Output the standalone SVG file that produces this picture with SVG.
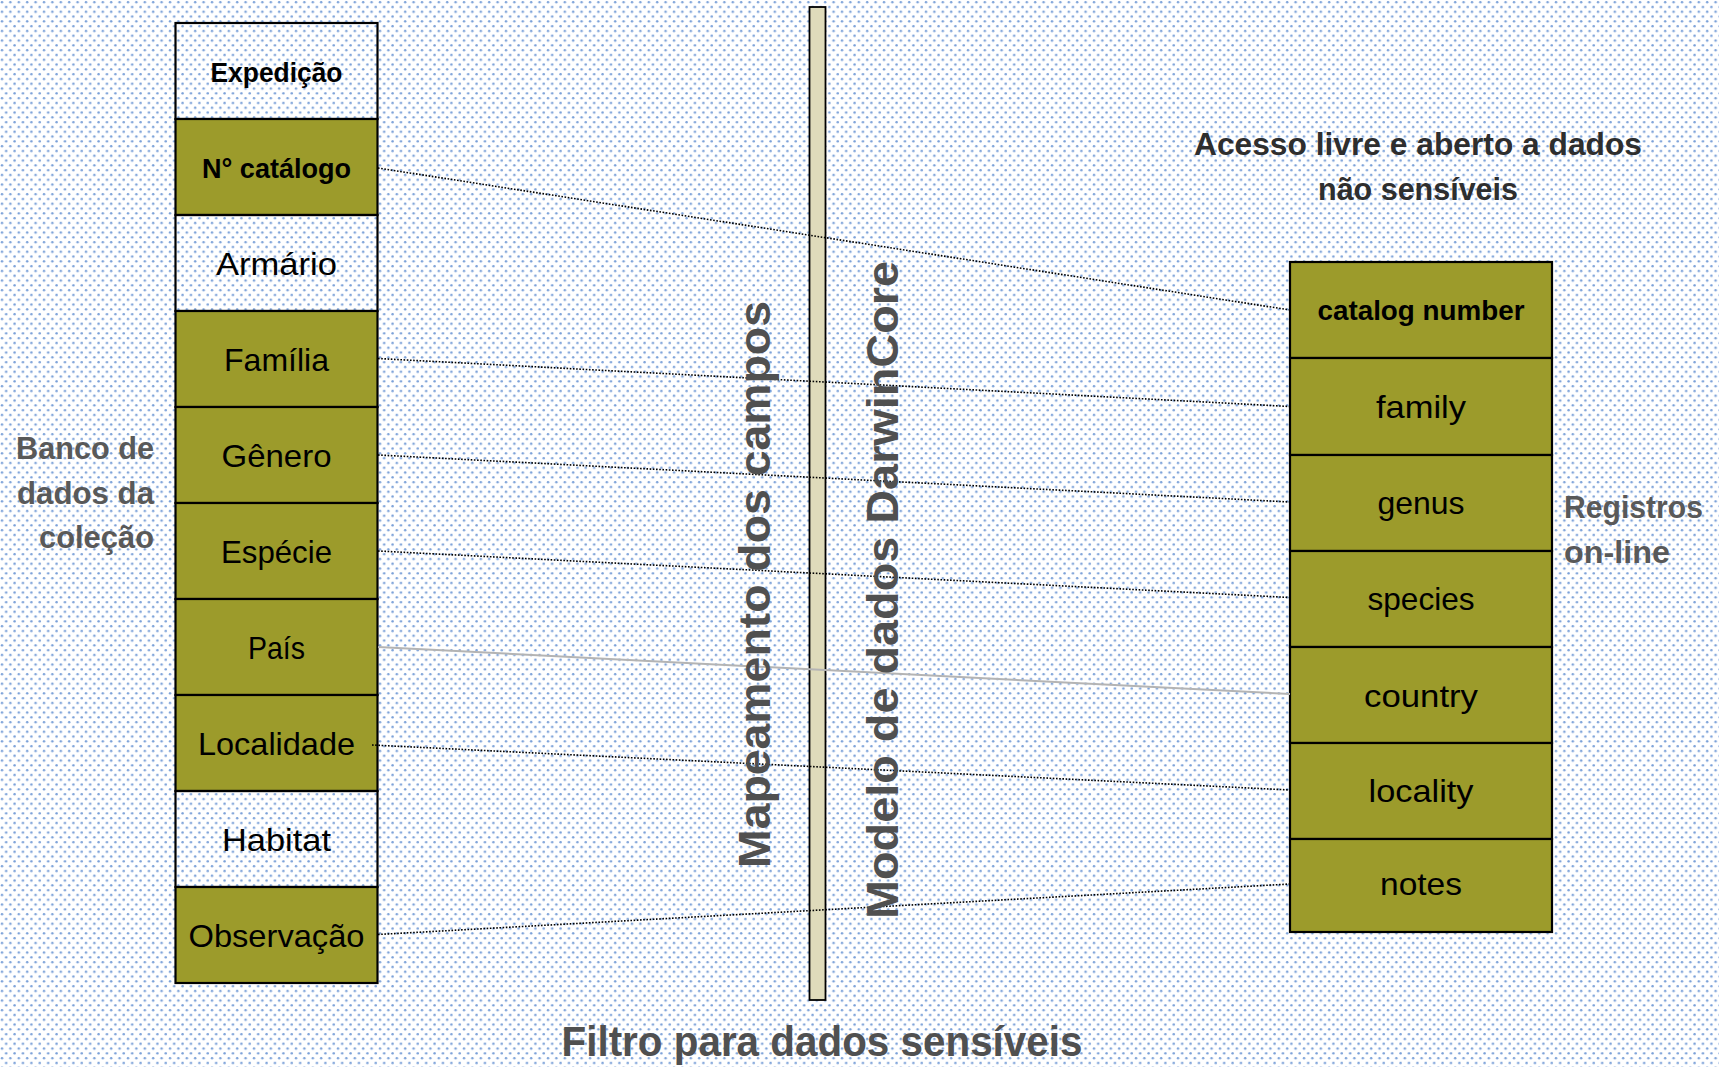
<svg xmlns="http://www.w3.org/2000/svg" width="1719" height="1067" viewBox="0 0 1719 1067">
<defs>
<pattern id="bg" width="8.4" height="9.6" patternUnits="userSpaceOnUse">
<rect width="8.4" height="9.6" fill="#ffffff"/>
<circle cx="2" cy="2.2" r="1.25" fill="#7aa0d8"/>
<circle cx="6.2" cy="7" r="1.25" fill="#7aa0d8"/>
</pattern>
<style>
.cell{stroke:#000;stroke-width:2.2}
.olive{fill:#9c9b2b}
.blank{fill:none}
.t{font-family:"Liberation Sans",Arial,sans-serif;font-size:32px;fill:#000;text-anchor:middle}
.tb{font-family:"Liberation Sans",Arial,sans-serif;font-size:28px;font-weight:bold;fill:#000;text-anchor:middle}
.lab{font-family:"Liberation Sans",Arial,sans-serif;font-size:32px;font-weight:bold;fill:#595959}
.head{font-family:"Liberation Sans",Arial,sans-serif;font-size:32px;font-weight:bold;fill:#2e2e2e;text-anchor:middle}
.big{font-family:"Liberation Sans",Arial,sans-serif;font-size:45px;font-weight:bold;fill:#505050}
.dot{stroke:#000;stroke-width:1.6;stroke-dasharray:1.6 1.6;fill:none}
.solid{stroke:#b4b4b4;stroke-width:2;fill:none}
</style>
</defs>
<rect x="0" y="0" width="1719" height="1067" fill="url(#bg)"/>

<g id="filter-bar">
<rect x="809.5" y="7" width="16" height="993" fill="#dfdbbb" stroke="#000" stroke-width="1.8"/>
</g>

<g id="left-table">
<g id="n-expedicao"><rect class="cell blank" x="175.5" y="23" width="202" height="96"/><text class="tb" x="276.5" y="81.5" textLength="132" lengthAdjust="spacingAndGlyphs">Expedição</text></g>
<g id="n-catalogo"><rect class="cell olive" x="175.5" y="119" width="202" height="96"/><text class="tb" x="276.5" y="177.5" textLength="149" lengthAdjust="spacingAndGlyphs">N° catálogo</text></g>
<g id="n-armario"><rect class="cell blank" x="175.5" y="215" width="202" height="96"/><text class="t" x="276.5" y="275" textLength="121" lengthAdjust="spacingAndGlyphs">Armário</text></g>
<g id="n-familia"><rect class="cell olive" x="175.5" y="311" width="202" height="96"/><text class="t" x="276.5" y="371" textLength="105" lengthAdjust="spacingAndGlyphs">Família</text></g>
<g id="n-genero"><rect class="cell olive" x="175.5" y="407" width="202" height="96"/><text class="t" x="276.5" y="467" textLength="110" lengthAdjust="spacingAndGlyphs">Gênero</text></g>
<g id="n-especie"><rect class="cell olive" x="175.5" y="503" width="202" height="96"/><text class="t" x="276.5" y="563" textLength="111" lengthAdjust="spacingAndGlyphs">Espécie</text></g>
<g id="n-pais"><rect class="cell olive" x="175.5" y="599" width="202" height="96"/><text class="t" x="276.5" y="659" textLength="57" lengthAdjust="spacingAndGlyphs">País</text></g>
<g id="n-localidade"><rect class="cell olive" x="175.5" y="695" width="202" height="96"/><text class="t" x="276.5" y="755" textLength="157" lengthAdjust="spacingAndGlyphs">Localidade</text></g>
<g id="n-habitat"><rect class="cell blank" x="175.5" y="791" width="202" height="96"/><text class="t" x="276.5" y="851" textLength="109" lengthAdjust="spacingAndGlyphs">Habitat</text></g>
<g id="n-observacao"><rect class="cell olive" x="175.5" y="887" width="202" height="96"/><text class="t" x="276.5" y="947" textLength="176" lengthAdjust="spacingAndGlyphs">Observação</text></g>
</g>

<g id="right-table">
<g id="n-catalognumber"><rect class="cell olive" x="1290" y="262" width="262" height="96"/><text class="tb" x="1421" y="320" textLength="207" lengthAdjust="spacingAndGlyphs">catalog number</text></g>
<g id="n-family"><rect class="cell olive" x="1290" y="358" width="262" height="97"/><text class="t" x="1421" y="418" textLength="90" lengthAdjust="spacingAndGlyphs">family</text></g>
<g id="n-genus"><rect class="cell olive" x="1290" y="455" width="262" height="96"/><text class="t" x="1421" y="514" textLength="87" lengthAdjust="spacingAndGlyphs">genus</text></g>
<g id="n-species"><rect class="cell olive" x="1290" y="551" width="262" height="96"/><text class="t" x="1421" y="610" textLength="107" lengthAdjust="spacingAndGlyphs">species</text></g>
<g id="n-country"><rect class="cell olive" x="1290" y="647" width="262" height="96"/><text class="t" x="1421" y="707" textLength="114" lengthAdjust="spacingAndGlyphs">country</text></g>
<g id="n-locality"><rect class="cell olive" x="1290" y="743" width="262" height="96"/><text class="t" x="1421" y="802" textLength="105" lengthAdjust="spacingAndGlyphs">locality</text></g>
<g id="n-notes"><rect class="cell olive" x="1290" y="839" width="262" height="93"/><text class="t" x="1421" y="895" textLength="82" lengthAdjust="spacingAndGlyphs">notes</text></g>
</g>

<g id="connectors">
<line class="dot" x1="378" y1="168" x2="1290" y2="310"/>
<line class="dot" x1="378" y1="358.5" x2="1290" y2="406.5"/>
<line class="dot" x1="378" y1="455" x2="1290" y2="502"/>
<line class="dot" x1="378" y1="551" x2="1290" y2="597.5"/>
<line class="solid" x1="378" y1="647" x2="1290" y2="694"/>
<line class="dot" x1="372" y1="745" x2="1290" y2="790"/>
<line class="dot" x1="378" y1="934.5" x2="1290" y2="884"/>
</g>

<g id="labels">
<text class="lab" x="154" y="459" text-anchor="end" textLength="138" lengthAdjust="spacingAndGlyphs">Banco de</text>
<text class="lab" x="154" y="504" text-anchor="end" textLength="137" lengthAdjust="spacingAndGlyphs">dados da</text>
<text class="lab" x="154" y="548" text-anchor="end" textLength="115" lengthAdjust="spacingAndGlyphs">coleção</text>
<text class="lab" x="1564" y="518" textLength="139" lengthAdjust="spacingAndGlyphs">Registros</text>
<text class="lab" x="1564" y="563" textLength="106" lengthAdjust="spacingAndGlyphs">on-line</text>
<text class="head" x="1418" y="155" textLength="448" lengthAdjust="spacingAndGlyphs">Acesso livre e aberto a dados</text>
<text class="head" x="1418" y="200" textLength="200" lengthAdjust="spacingAndGlyphs">não sensíveis</text>
<text class="big" transform="translate(770,868) rotate(-90)" x="0" y="0" textLength="567" lengthAdjust="spacingAndGlyphs">Mapeamento dos campos</text>
<text class="big" transform="translate(898,919) rotate(-90)" x="0" y="0" textLength="658" lengthAdjust="spacingAndGlyphs">Modelo de dados DarwinCore</text>
<text class="big" x="822" y="1056" font-size="43" text-anchor="middle" textLength="521" lengthAdjust="spacingAndGlyphs" style="font-size:43px">Filtro para dados sensíveis</text>
</g>
</svg>
